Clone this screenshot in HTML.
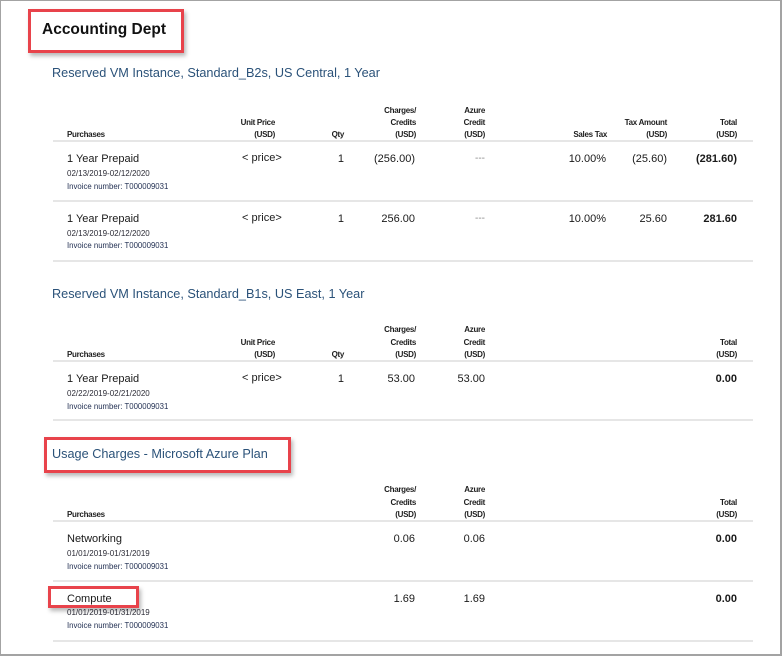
<!DOCTYPE html>
<html><head><meta charset="utf-8">
<style>
html,body{margin:0;padding:0;background:#fff;}
#pg{position:relative;width:779px;height:653px;border-left:1px solid #a3a3a3;border-top:1px solid #a3a3a3;border-right:2px solid #a3a3a3;border-bottom:2px solid #a3a3a3;overflow:hidden;font-family:"Liberation Sans",Arial,sans-serif;color:#1a1a1a;}
.t{position:absolute;white-space:nowrap;line-height:14px;}
.r{position:absolute;white-space:nowrap;line-height:14px;text-align:right;width:120px;}
.h{font-size:8px;font-weight:bold;color:#1e1e1e;letter-spacing:-0.3px;}
.m{font-size:11px;color:#1a1a1a;}
.d{font-size:8px;color:#2a2a35;}
.i{font-size:7.8px;color:#1f2d50;}
.n{font-size:11px;color:#1a1a1a;}
.b{font-weight:bold;}
.g{color:#8a8a8a;font-size:10px;}
.title{font-size:12.7px;color:#2b5279;}
.ln{position:absolute;left:52px;width:700px;height:2px;background:#e6e6e6;}
.box{position:absolute;border:3px solid #e8434b;box-shadow:2px 3px 4px rgba(0,0,0,0.28);box-sizing:border-box;}
</style></head><body>
<div id="pg">
<div class="box" style="left:27px;top:8px;width:156px;height:44px;"></div>
<div class="t b" style="left:41px;top:20px;font-size:15.5px;line-height:18px;color:#111;">Accounting Dept</div>

<div class="t title" style="left:51px;top:64.5px;">Reserved VM Instance, Standard_B2s, US Central, 1 Year</div>

<div class="t h" style="left:66px;top:126.5px;">Purchases</div>
<div class="r h" style="left:154px;top:115px;">Unit Price</div>
<div class="r h" style="left:154px;top:126.5px;">(USD)</div>
<div class="r h" style="left:223px;top:126.5px;">Qty</div>
<div class="r h" style="left:295px;top:103px;">Charges/</div>
<div class="r h" style="left:295px;top:115px;">Credits</div>
<div class="r h" style="left:295px;top:126.5px;">(USD)</div>
<div class="r h" style="left:364px;top:103px;">Azure</div>
<div class="r h" style="left:364px;top:115px;">Credit</div>
<div class="r h" style="left:364px;top:126.5px;">(USD)</div>
<div class="r h" style="left:486px;top:126.5px;">Sales Tax</div>
<div class="r h" style="left:546px;top:115px;">Tax Amount</div>
<div class="r h" style="left:546px;top:126.5px;">(USD)</div>
<div class="r h" style="left:616px;top:115px;">Total</div>
<div class="r h" style="left:616px;top:126.5px;">(USD)</div>
<div class="ln" style="top:139px;"></div>

<div class="t m" style="left:66px;top:150.5px;">1 Year Prepaid</div>
<div class="t d" style="left:66px;top:165.5px;">02/13/2019-02/12/2020</div>
<div class="t i" style="left:66px;top:178.5px;">Invoice number: T000009031</div>
<div class="t n" style="left:241px;top:149.5px;">&lt; price&gt;</div>
<div class="r n" style="left:223px;top:150.5px;">1</div>
<div class="r n" style="left:294px;top:150.5px;">(256.00)</div>
<div class="r g" style="left:364px;top:150.5px;">---</div>
<div class="r n" style="left:485px;top:150.5px;">10.00%</div>
<div class="r n" style="left:546px;top:150.5px;">(25.60)</div>
<div class="r n b" style="left:616px;top:150.5px;">(281.60)</div>
<div class="ln" style="top:199px;"></div>

<div class="t m" style="left:66px;top:210.5px;">1 Year Prepaid</div>
<div class="t d" style="left:66px;top:225.5px;">02/13/2019-02/12/2020</div>
<div class="t i" style="left:66px;top:238px;">Invoice number: T000009031</div>
<div class="t n" style="left:241px;top:209.5px;">&lt; price&gt;</div>
<div class="r n" style="left:223px;top:210.5px;">1</div>
<div class="r n" style="left:294px;top:210.5px;">256.00</div>
<div class="r g" style="left:364px;top:210.5px;">---</div>
<div class="r n" style="left:485px;top:210.5px;">10.00%</div>
<div class="r n" style="left:546px;top:210.5px;">25.60</div>
<div class="r n b" style="left:616px;top:210.5px;">281.60</div>
<div class="ln" style="top:258.5px;"></div>

<div class="t title" style="left:51px;top:285.5px;">Reserved VM Instance, Standard_B1s, US East, 1 Year</div>
<div class="t h" style="left:66px;top:347px;">Purchases</div>
<div class="r h" style="left:154px;top:334.5px;">Unit Price</div>
<div class="r h" style="left:154px;top:347px;">(USD)</div>
<div class="r h" style="left:223px;top:347px;">Qty</div>
<div class="r h" style="left:295px;top:322px;">Charges/</div>
<div class="r h" style="left:295px;top:334.5px;">Credits</div>
<div class="r h" style="left:295px;top:347px;">(USD)</div>
<div class="r h" style="left:364px;top:322px;">Azure</div>
<div class="r h" style="left:364px;top:334.5px;">Credit</div>
<div class="r h" style="left:364px;top:347px;">(USD)</div>
<div class="r h" style="left:616px;top:334.5px;">Total</div>
<div class="r h" style="left:616px;top:347px;">(USD)</div>
<div class="ln" style="top:359px;"></div>

<div class="t m" style="left:66px;top:371px;">1 Year Prepaid</div>
<div class="t d" style="left:66px;top:386px;">02/22/2019-02/21/2020</div>
<div class="t i" style="left:66px;top:398.5px;">Invoice number: T000009031</div>
<div class="t n" style="left:241px;top:370px;">&lt; price&gt;</div>
<div class="r n" style="left:223px;top:371px;">1</div>
<div class="r n" style="left:294px;top:371px;">53.00</div>
<div class="r n" style="left:364px;top:371px;">53.00</div>
<div class="r n b" style="left:616px;top:371px;">0.00</div>
<div class="ln" style="top:417.5px;"></div>

<div class="box" style="left:43px;top:436px;width:247px;height:36px;"></div>
<div class="t title" style="left:51px;top:445.5px;">Usage Charges - Microsoft Azure Plan</div>
<div class="t h" style="left:66px;top:507px;">Purchases</div>
<div class="r h" style="left:295px;top:482px;">Charges/</div>
<div class="r h" style="left:295px;top:494.5px;">Credits</div>
<div class="r h" style="left:295px;top:507px;">(USD)</div>
<div class="r h" style="left:364px;top:482px;">Azure</div>
<div class="r h" style="left:364px;top:494.5px;">Credit</div>
<div class="r h" style="left:364px;top:507px;">(USD)</div>
<div class="r h" style="left:616px;top:494.5px;">Total</div>
<div class="r h" style="left:616px;top:507px;">(USD)</div>
<div class="ln" style="top:519px;"></div>

<div class="t m" style="left:66px;top:531px;">Networking</div>
<div class="t d" style="left:66px;top:546px;">01/01/2019-01/31/2019</div>
<div class="t i" style="left:66px;top:558.5px;">Invoice number: T000009031</div>
<div class="r n" style="left:294px;top:531px;">0.06</div>
<div class="r n" style="left:364px;top:531px;">0.06</div>
<div class="r n b" style="left:616px;top:531px;">0.00</div>
<div class="ln" style="top:579px;"></div>

<div class="box" style="left:47px;top:585px;width:91px;height:22px;"></div>
<div class="t m" style="left:66px;top:591px;">Compute</div>
<div class="t d" style="left:66px;top:605px;">01/01/2019-01/31/2019</div>
<div class="t i" style="left:66px;top:618px;">Invoice number: T000009031</div>
<div class="r n" style="left:294px;top:591px;">1.69</div>
<div class="r n" style="left:364px;top:591px;">1.69</div>
<div class="r n b" style="left:616px;top:591px;">0.00</div>
<div class="ln" style="top:638.5px;"></div>
</div>
</body></html>
